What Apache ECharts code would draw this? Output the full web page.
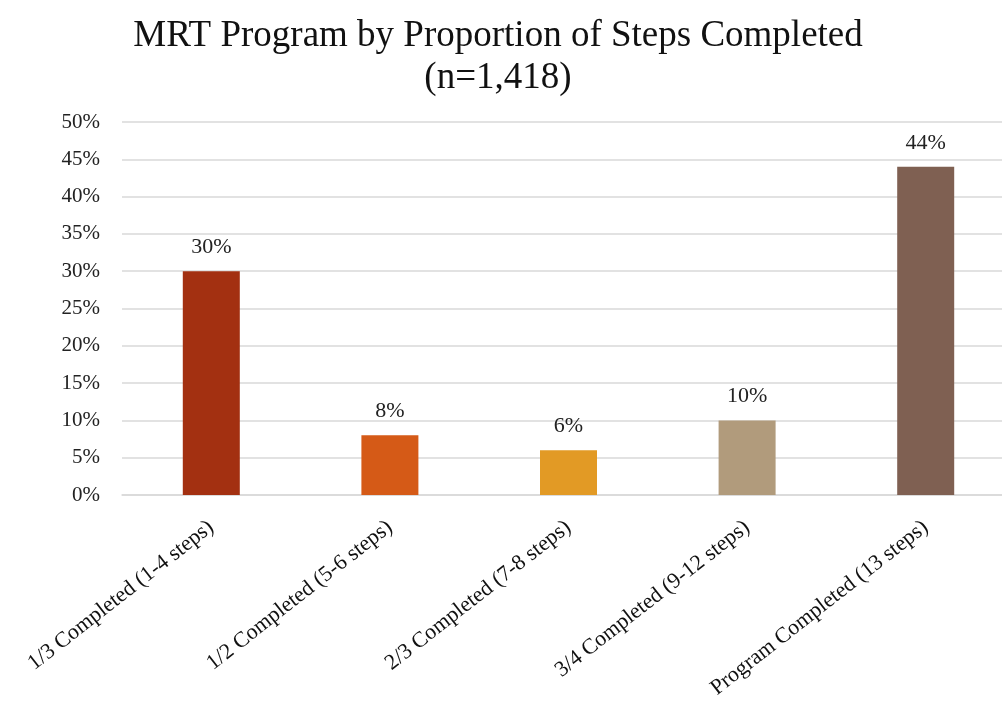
<!DOCTYPE html>
<html>
<head>
<meta charset="utf-8">
<script src="https://cdn.jsdelivr.net/npm/echarts@6/dist/echarts.min.js"></script>
<style>
  html, body { margin: 0; padding: 0; background: #fff; }
  #chart { width: 1002px; height: 701px; }
</style>
</head>
<body>
<div id="chart"></div>
<script>
var categories = [
  '1/3 Completed (1-4 steps)',
  '1/2 Completed (5-6 steps)',
  '2/3 Completed (7-8 steps)',
  '3/4 Completed (9-12 steps)',
  'Program Completed (13 steps)'
];
var values = [30, 8, 6, 10, 44];
var barColors = ['#A33011', '#D55A17', '#E29A25', '#B19B7C', '#7F6052'];

var serif = '"Liberation Serif", "DejaVu Serif", serif';
var chart = echarts.init(document.getElementById('chart'));

var option = {
  animation: false,
  title: {
    text: 'MRT Program by Proportion of Steps Completed\n(n=1,418)',
    left: 493,
    textAlign: 'center',
    top: 10,
    textStyle: {
      fontFamily: serif,
      fontWeight: 'normal',
      fontSize: 37,
      lineHeight: 42,
      color: '#111'
    }
  },
  grid: {
    left: 122,
    top: 122,
    width: 893,
    height: 373,
    outerBoundsMode: 'none'
  },
  xAxis: {
    type: 'category',
    data: categories,
    axisTick: { show: false },
    axisLine: { lineStyle: { color: '#D9D9D9', width: 1.5 } },
    axisLabel: {
      rotate: 38,
      margin: 30,
      interval: 0,
      fontFamily: serif,
      fontSize: 22,
      color: '#111'
    }
  },
  yAxis: {
    type: 'value',
    min: 0,
    max: 50,
    interval: 5,
    axisLine: { show: false },
    axisTick: { show: false },
    splitLine: { lineStyle: { color: '#D9D9D9', width: 1.5 } },
    axisLabel: {
      formatter: '{value}%',
      margin: 22,
      fontFamily: serif,
      fontSize: 21,
      color: '#222'
    }
  },
  series: [{
    type: 'bar',
    data: values.map(function (v, i) {
      return { value: v, itemStyle: { color: barColors[i] } };
    }),
    barWidth: 57,
    label: {
      show: true,
      position: 'top',
      distance: 13,
      formatter: '{c}%',
      fontFamily: serif,
      fontSize: 22,
      color: '#222'
    }
  }]
};

chart.setOption(option);
</script>
</body>
</html>
